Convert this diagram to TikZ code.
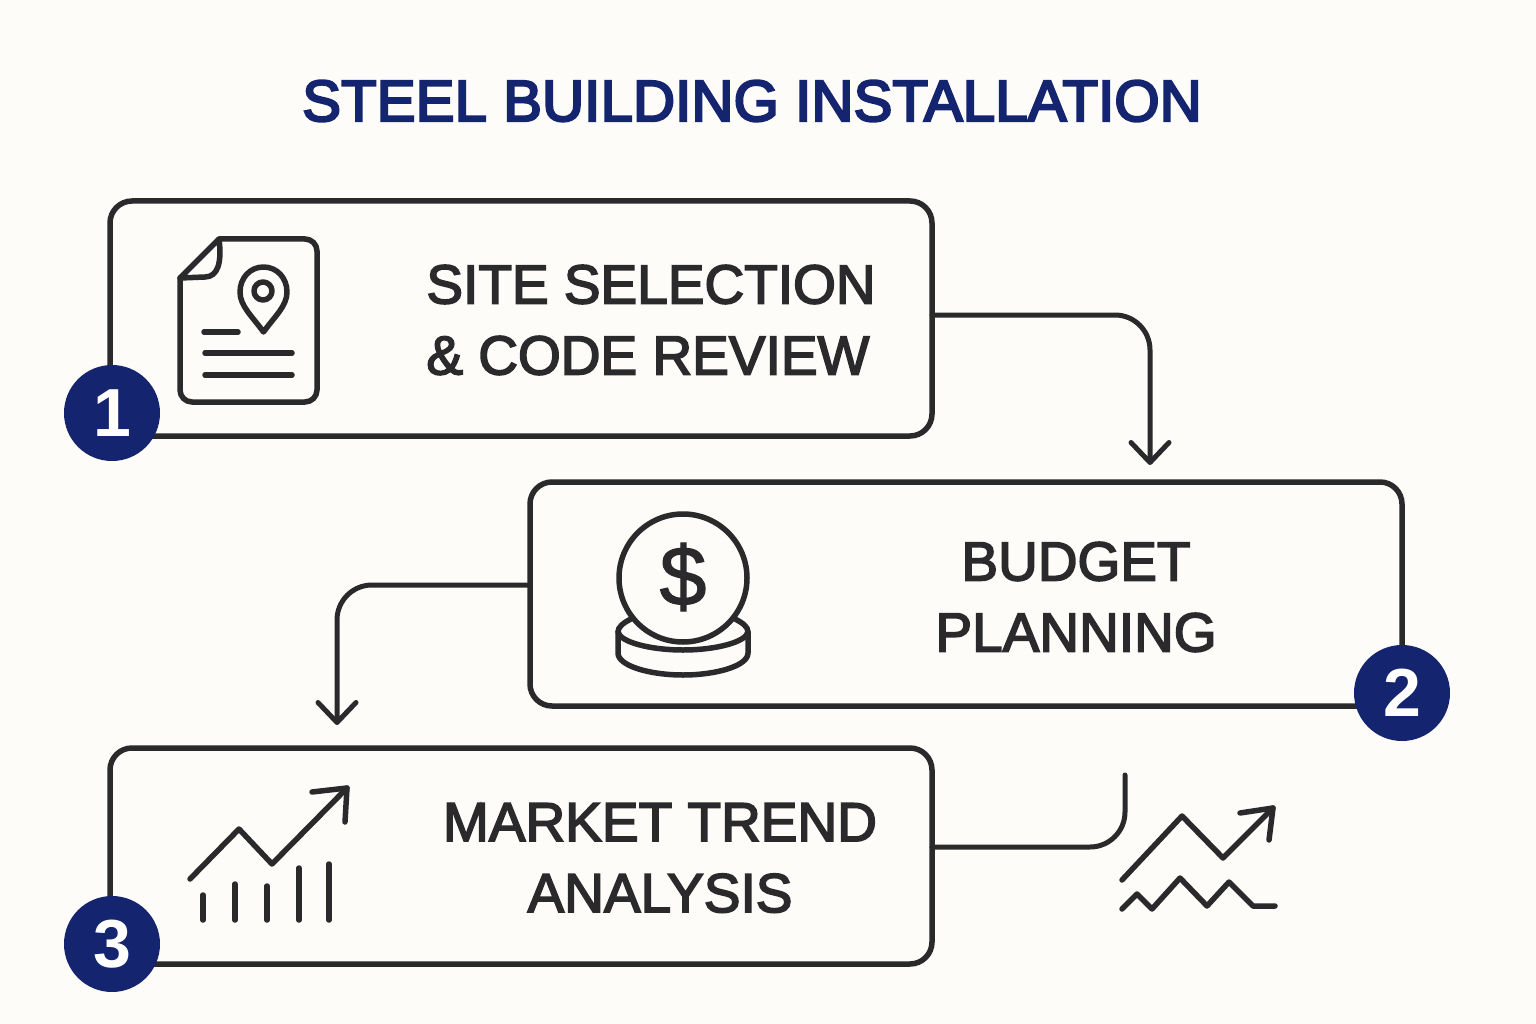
\documentclass[tikz,border=0pt]{standalone}
\usepackage{fontspec}
\setmainfont{Liberation Sans}
\newfontfamily\medf[FakeBold=3]{Liberation Sans}
\newfontfamily\titlef[FakeBold=4,LetterSpace=0.4]{Liberation Sans}
\newfontfamily\dollarf[FakeBold=1.5]{Liberation Sans}
\usetikzlibrary{arrows.meta}
\definecolor{ink}{HTML}{2A2A2C}
\definecolor{navy}{HTML}{14246E}
\definecolor{paper}{HTML}{FDFCF9}
\tikzset{
  stepbox/.style={draw=ink,line width=5.5pt,rounded corners=22pt,inner sep=0pt,outer sep=0pt},
  badge/.style={circle,fill=navy,minimum size=96pt,inner sep=0pt,text=white,font=\fontsize{68}{68}\selectfont\bfseries},
  label/.style={text=ink,inner sep=0pt,font=\fontsize{55}{71}\selectfont\medf},
  flow/.style={draw=ink,line width=5pt,rounded corners=35pt,line cap=round},
  tipped/.style={flow,-{Straight Barb[length=20pt,width=38pt,line width=5pt,round]}},
  icon/.style={draw=ink,line width=5.5pt,line cap=round,line join=round},
}
\begin{document}
\begin{tikzpicture}[x=1pt,y=-1pt]
\useasboundingbox[fill=paper] (0,0) rectangle (1536,1024);
\node[text=navy,inner sep=0pt,font=\fontsize{58}{60}\selectfont\titlef] (title) at (752,101) {STEEL BUILDING INSTALLATION};
% boxes
\node[stepbox,minimum width=822pt,minimum height=235pt] (b1) at (521,318.5) {};
\node[stepbox,minimum width=872pt,minimum height=224pt] (b2) at (966,594) {};
\node[stepbox,minimum width=822pt,minimum height=216pt] (b3) at (521,856) {};
% labels
\node[label,align=left] (t1) at (651,320) {SITE SELECTION\\\& CODE REVIEW};
\node[label,align=center] (t2) at (1076,597) {BUDGET\\PLANNING};
\node[label,align=center] (t3) at (660,858) {MARKET TREND\\ANALYSIS};
% badges
\node[badge] (n1) at (112,413) {1};
\node[badge] (n2) at (1402,693) {2};
\node[badge] (n3) at (112,944) {3};
% connectors
\coordinate (e1) at (1150,465);
\coordinate (e2) at (337,725);
\coordinate (e3) at (1125,775);
\draw[tipped] ([yshift=3.5pt]b1.east) -| (e1);
\draw[tipped] ([yshift=9pt]b2.west) -| (e2);
\draw[flow] ([yshift=9pt]b3.east) -| (e3);
% document icon
\draw[icon,rounded corners=12pt] (219,239) -- (317,239) -- (317,402) -- (180,402) -- (180,278);
\draw[icon,line join=round] (180,278) -- (219,239) .. controls (222,262) and (218,277) .. (205,277) -- (180,278);
\draw[icon] (263.5,332) .. controls (252,316) and (240,306) .. (240,292) .. controls (240,278) and (250,267) .. (263.5,267) .. controls (277,267) and (287,278) .. (287,292) .. controls (287,306) and (275,316) .. (263.5,332) -- cycle;
\draw[icon] (263,291) circle (9);
\draw[icon] (204,332) -- (238,332);
\draw[icon] (205,353) -- (292,353);
\draw[icon] (205,375) -- (292,375);
% coin icon
\draw[icon] (683,578) circle (64);
\node[text=ink,inner sep=0pt,font=\fontsize{84}{84}\selectfont\dollarf] (dollar) at (683,577) {\$};
\draw[icon] (631,619) .. controls (623,623) and (618,627) .. (618,632) -- (618,653) .. controls (618,666) and (650,675) .. (683,675) .. controls (716,675) and (748,666) .. (748,653) -- (748,632) .. controls (748,627) and (743,623) .. (735,619);
\draw[icon] (618,632) .. controls (620,642) and (650,650) .. (683,650) .. controls (716,650) and (746,642) .. (748,632);
% chart icon
\draw[icon] (190,879) -- (239,829) -- (272,864) -- (347,788);
\draw[icon] (312,792) -- (347,788) -- (345,822);
\draw[icon] (203,895) -- (203,920);
\draw[icon] (235,884) -- (235,920);
\draw[icon] (267,886) -- (267,920);
\draw[icon] (299,868) -- (299,920);
\draw[icon] (329,864) -- (329,920);
% trend icon
\draw[icon] (1122,880) -- (1182,816) -- (1223,858) -- (1273,808);
\draw[icon] (1240,813) -- (1273,808) -- (1269,840);
\draw[icon] (1122,909) -- (1137,894) -- (1152,909) -- (1180,878) -- (1207,906) -- (1229,882) -- (1253,906) -- (1275,906);
\end{tikzpicture}
\end{document}
